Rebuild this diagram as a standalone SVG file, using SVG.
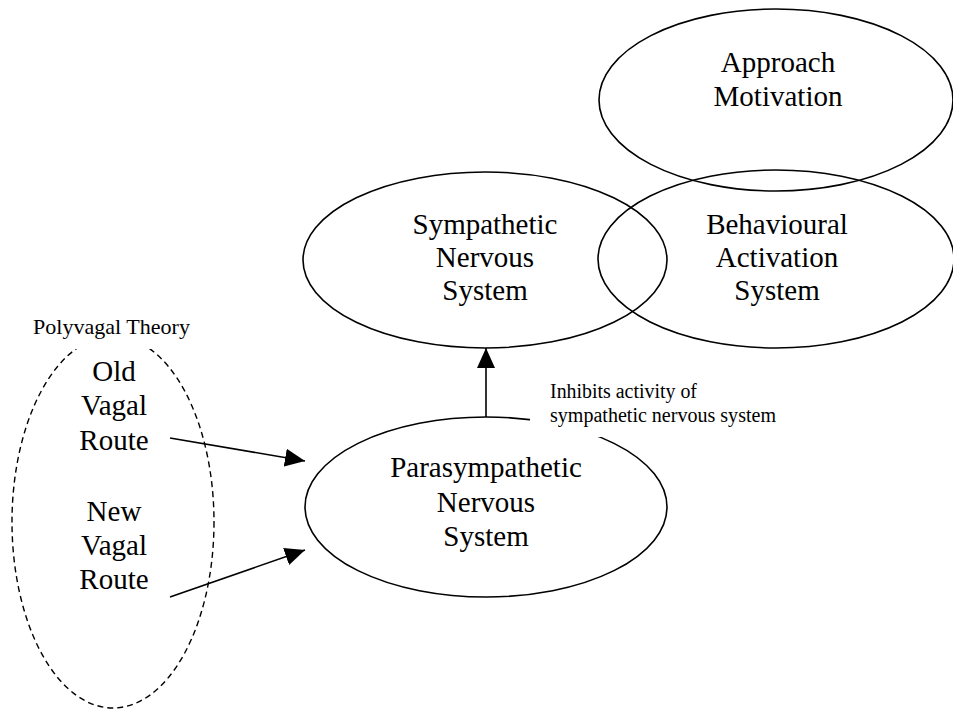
<svg xmlns="http://www.w3.org/2000/svg" width="953" height="710" viewBox="0 0 953 710">
<style>
.node{fill:none;stroke:#000;stroke-width:1.6}
.dash{fill:none;stroke:#000;stroke-width:1.4;stroke-dasharray:6 4}
.t{font-family:"Liberation Serif","Times New Roman",serif;font-size:29px;fill:#000;text-anchor:middle}
.s{font-family:"Liberation Serif","Times New Roman",serif;font-size:20px;fill:#000}
.edge{stroke:#000;stroke-width:1.6;fill:none}
</style>
<defs>
<marker id="arr" viewBox="0 0 20 18" refX="20" refY="9" markerWidth="20" markerHeight="18" markerUnits="userSpaceOnUse" orient="auto">
<path d="M0,0 L20,9 L0,18 Z" fill="#000"/>
</marker>
</defs>
<rect width="953" height="710" fill="#fff"/>
<g id="approach">
<ellipse class="node" cx="776" cy="100" rx="177" ry="91"/>
<text class="t" x="778" y="72">Approach</text>
<text class="t" x="778" y="106">Motivation</text>
</g>
<g id="sympathetic">
<ellipse class="node" cx="485" cy="260" rx="182" ry="88"/>
<text class="t" x="485" y="234">Sympathetic</text>
<text class="t" x="485" y="267">Nervous</text>
<text class="t" x="485" y="300">System</text>
</g>
<g id="bas">
<ellipse class="node" cx="776" cy="259" rx="178" ry="89"/>
<text class="t" x="777" y="234">Behavioural</text>
<text class="t" x="777" y="267">Activation</text>
<text class="t" x="777" y="300">System</text>
</g>
<g id="polyvagal">
<ellipse class="dash" cx="113" cy="522" rx="101" ry="186"/>
<rect x="22" y="312" width="180" height="37" fill="#fff"/>
<text class="s" x="33" y="334" style="font-size:21px" textLength="157" lengthAdjust="spacingAndGlyphs">Polyvagal Theory</text>
</g>
<g id="old">
<text class="t" x="114" y="381">Old</text>
<text class="t" x="114" y="415">Vagal</text>
<text class="t" x="114" y="450">Route</text>
</g>
<g id="new">
<text class="t" x="114" y="521">New</text>
<text class="t" x="114" y="555">Vagal</text>
<text class="t" x="114" y="589">Route</text>
</g>
<g id="parasympathetic">
<ellipse class="node" cx="486" cy="507" rx="181" ry="90"/>
<text class="t" x="486" y="477">Parasympathetic</text>
<text class="t" x="486" y="512">Nervous</text>
<text class="t" x="486" y="546">System</text>
</g>
<g id="connectors">
<line class="edge" x1="486" y1="417" x2="486" y2="348" marker-end="url(#arr)"/>
<line class="edge" x1="170" y1="438" x2="305" y2="461" marker-end="url(#arr)"/>
<line class="edge" x1="170" y1="597" x2="305" y2="550" marker-end="url(#arr)"/>
</g>
<g id="inhibits-label">
<rect x="530" y="376" width="255" height="61" fill="#fff"/>
<text class="s" x="550" y="398" textLength="147" lengthAdjust="spacingAndGlyphs">Inhibits activity of</text>
<text class="s" x="550" y="422" textLength="226" lengthAdjust="spacingAndGlyphs">sympathetic nervous system</text>
</g>
</svg>
